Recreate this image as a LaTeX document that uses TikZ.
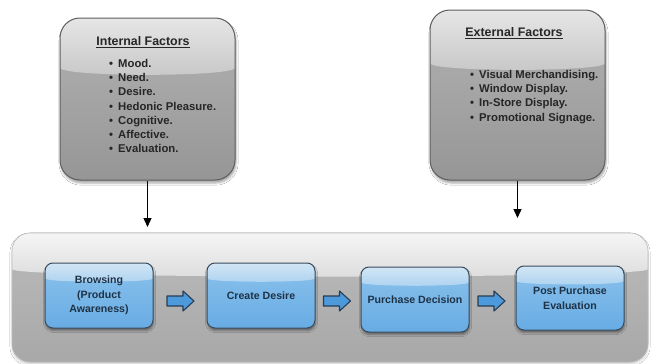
\documentclass[tikz,border=0pt]{standalone}
\usepackage{fontspec}
\setmainfont{Liberation Sans}
\usetikzlibrary{arrows.meta,shadows.blur,calc}

\definecolor{boxline}{HTML}{5E5E5E}
\definecolor{boxtop}{HTML}{E6E6E6}
\definecolor{boxmid}{HTML}{C2C2C2}
\definecolor{boxlow}{HTML}{A8A8A8}
\definecolor{boxbot}{HTML}{969696}
\definecolor{bandline}{HTML}{BDBDBD}
\definecolor{bandtop}{HTML}{F5F5F5}
\definecolor{bandmid}{HTML}{D8D8D8}
\definecolor{bandlow}{HTML}{B4B4B4}
\definecolor{bandbot}{HTML}{A8A8A8}
\definecolor{stepline}{HTML}{384C5E}
\definecolor{steptop}{HTML}{D2E6F5}
\definecolor{stepmid}{HTML}{A6CFEF}
\definecolor{steplow}{HTML}{80BBE9}
\definecolor{stepbot}{HTML}{68ACE4}
\definecolor{flowfill}{HTML}{4C99DB}
\definecolor{flowline}{HTML}{2A3C52}
\definecolor{darktext}{HTML}{262626}
\definecolor{steptext}{HTML}{1E3246}

% glossy fill: #1 top, #2 end of highlight, #3 start of lower part, #4 bottom, #5 highlight depth
\newcommand\glossfill[5]{%
  \coordinate (pnw) at (path picture bounding box.north west);
  \coordinate (pse) at (path picture bounding box.south east);
  \shade[top color=#3, bottom color=#4]
    ($(pnw)!#5*0.85!(pnw|-pse)$) rectangle (pse);
  \shade[top color=#1, bottom color=#2]
    (pnw) -- (pnw-|pse) -- ($(pnw-|pse)!#5!(pse)$)
    .. controls ($(pnw-|pse)!#5*0.85!(pse)$) and ($(pnw)!#5*0.85!(pnw|-pse)$)
    .. ($(pnw)!#5!(pnw|-pse)$) -- cycle;
}

\tikzset{
  factorbox/.style={draw=boxline, line width=1pt, fill=boxlow,
    rounded corners=20pt, minimum width=175pt, inner sep=0pt,
    blur shadow={shadow xshift=1pt, shadow yshift=-3pt, shadow opacity=35},
    path picture={\glossfill{boxtop}{boxmid}{boxlow}{boxbot}{0.43}}},
  band/.style={draw=bandline, line width=0.6pt, fill=bandlow,
    rounded corners=18pt, inner sep=0pt,
    blur shadow={shadow xshift=0pt, shadow yshift=-2pt, shadow opacity=20},
    path picture={\glossfill{bandtop}{bandmid}{bandlow}{bandbot}{0.42}}},
  stepbox/.style={draw=stepline, line width=1pt, fill=steplow,
    rounded corners=8pt, minimum width=108pt, minimum height=65pt,
    inner sep=0pt, align=center, text=steptext,
    font=\fontsize{10.6}{14.5}\selectfont\bfseries,
    blur shadow={shadow xshift=0.5pt, shadow yshift=-2.5pt, shadow opacity=45},
    path picture={\glossfill{steptop}{stepmid}{steplow}{stepbot}{0.36}}},
  flowpic/.pic={
    \draw[draw=flowline, fill=flowfill, line width=1.1pt, line join=round]
      (-13.5,-5) -- (2.5,-5) -- (2.5,-10) -- (13.5,0) -- (2.5,10)
      -- (2.5,5) -- (-13.5,5) -- cycle;},
  heading/.style={font=\fontsize{12.4}{14}\selectfont\bfseries, text=darktext, inner sep=0pt},
  itemlist/.style={font=\fontsize{11.3}{14.3}\selectfont\bfseries, text=darktext,
    align=left, inner sep=0pt, anchor=west},
  feed/.style={line width=1.3pt, -{Triangle[width=8pt,length=9pt]}},
}
\newcommand\bul{\makebox[9pt][l]{•}}

\begin{document}
\begin{tikzpicture}[x=1pt, y=-1pt]
  \useasboundingbox (0,0) rectangle (651,364);
  \fill[white] (0,0) rectangle (651,364);

  % factor boxes
  \node[factorbox, minimum height=162pt] (internal) at (147.5,99) {};
  \node[factorbox, minimum height=170pt] (external) at (517.5,95) {};

  \node[heading] (inttitle) at (143,42) {\underline{Internal Factors}};
  \node[itemlist] (intlist) at (109,106) {\bul Mood.\\ \bul Need.\\ \bul Desire.\\
    \bul Hedonic Pleasure.\\ \bul Cognitive.\\ \bul Affective.\\ \bul Evaluation.};

  \node[heading] (exttitle) at (514,33) {\underline{External Factors}};
  \node[itemlist] (extlist) at (470,96.7) {\bul Visual Merchandising.\\
    \bul Window Display.\\ \bul In-Store Display.\\ \bul Promotional Signage.};

  % process band
  \node[band, minimum width=636pt, minimum height=129pt] (process) at (330,297.5) {};

  \node[stepbox] (browse) at (99,295.5) {Browsing\\(Product\\Awareness)};
  \node[stepbox] (desire) at (261,295.5) {Create Desire};
  \node[stepbox] (decide) at (415,299.5) {Purchase Decision};
  \node[stepbox, minimum height=64pt] (post) at (570,298) {Post Purchase\\Evaluation};

  % block arrows between the steps
  \pic (f1) at (180.5,301) {flowpic};
  \pic (f2) at (337,301) {flowpic};
  \pic (f3) at (491.5,301) {flowpic};

  % influences on the process
  \coordinate (intend) at (147.5,227);
  \coordinate (extend) at (517.5,218);
  \draw[feed] (internal.south) -- (intend);
  \draw[feed] (external.south) -- (extend);
\end{tikzpicture}
\end{document}
